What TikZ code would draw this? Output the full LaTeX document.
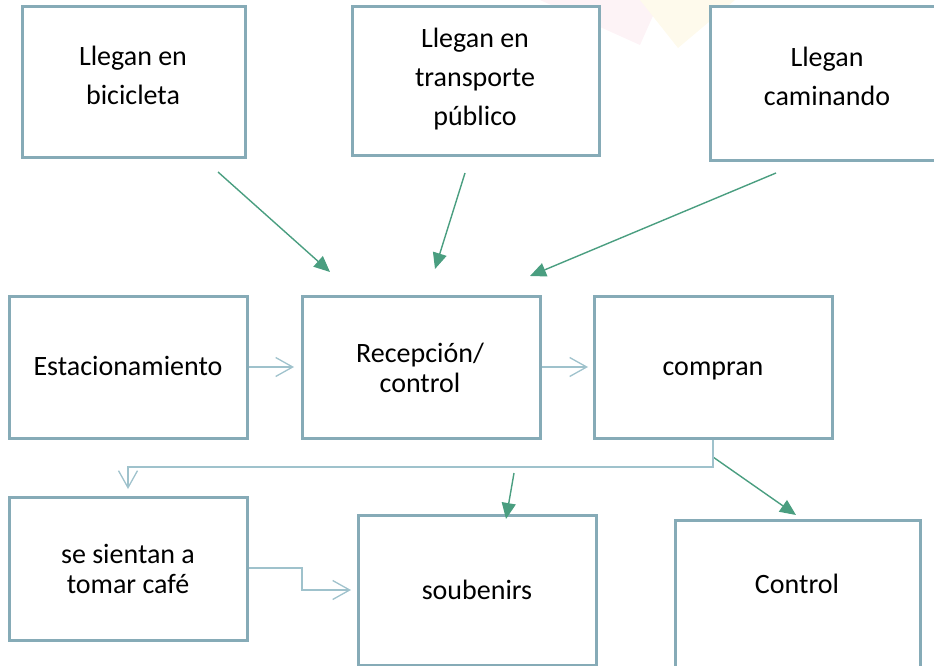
\documentclass[tikz,border=0pt]{standalone}
\usepackage{fontspec}
\setmainfont{Carlito}
\usetikzlibrary{arrows.meta}
\definecolor{boxc}{HTML}{86ABB7}
\definecolor{lightc}{HTML}{9FC2CC}
\definecolor{greenc}{HTML}{4A9E80}
\definecolor{wmyellow}{HTML}{FEFAEC}
\definecolor{wmpink}{HTML}{FDF3F6}
\tikzset{
  boxn/.style={draw=boxc, line width=3pt, fill=white, rectangle, inner sep=0pt},
  txt/.style={font=\fontsize{28}{39}\selectfont, align=center, inner sep=0pt},
  txtt/.style={font=\fontsize{28}{30}\selectfont, align=center, inner sep=0pt},
  garrow/.style={draw=greenc, line width=1.4pt, -{Triangle[length=16pt,width=14pt]}},
  larrow/.style={draw=lightc, line width=1.3pt, -{Straight Barb[length=17pt,width=19pt]}},
}
\begin{document}
\begin{tikzpicture}[x=1pt,y=-1pt]
\useasboundingbox (0,0) rectangle (934,666);
% faint background watermark
\fill[wmpink] (540,0) -- (660,0) -- (640,45) -- cycle;
\fill[wmyellow] (640,0) -- (735,0) -- (678,48) -- cycle;

% boxes
\node[boxn, minimum width=223pt, minimum height=150pt] (b1) at (133.5,82) {};
\node[boxn, minimum width=247pt, minimum height=148pt] (b2) at (475.5,81) {};
\node[boxn, minimum width=240pt, minimum height=153pt] (b3) at (830,83.5) {};
\node[boxn, minimum width=238pt, minimum height=142pt] (b4) at (128,367) {};
\node[boxn, minimum width=238pt, minimum height=142pt] (b5) at (421,367) {};
\node[boxn, minimum width=238pt, minimum height=142pt] (b6) at (713,367) {};
\node[boxn, minimum width=238pt, minimum height=143pt] (b7) at (128,568.5) {};
\node[boxn, minimum width=238pt, minimum height=150pt] (b8) at (477,590) {};
\node[boxn, minimum width=245pt, minimum height=180pt] (b9) at (797.5,610) {};

% texts
\node[txt] (t1) at (133,75) {Llegan en\\bicicleta};
\node[txt] (t2) at (475,79) {Llegan en\\transporte\\público};
\node[txt] (t3) at (827,76) {Llegan\\caminando};
\node[txt] (t4) at (128,366) {Estacionamiento};
\node[txtt] (t5) at (420,368) {Recepción/\\control};
\node[txt] (t6) at (713,371) {compran};
\node[txtt] (t7) at (128,569) {se sientan a\\tomar café};
\node[txt] (t8) at (477,590) {soubenirs};
\node[txt] (t9) at (797,584) {Control};

% free connector ends
\coordinate (g1s) at (218,172); \coordinate (g1e) at (330,272);
\coordinate (g2s) at (465,173); \coordinate (g2e) at (435,269);
\coordinate (g3s) at (776,173); \coordinate (g3e) at (530,276);
\coordinate (g4s) at (514,473); \coordinate (g4e) at (506,519);
\coordinate (g5s) at (713,457); \coordinate (g5e) at (796,515);
\coordinate (l1e) at (294,367);
\coordinate (l2e) at (588,367);
\coordinate (l3a) at (713,467); \coordinate (l3b) at (128,467); \coordinate (l3e) at (128,489);
\coordinate (l4a) at (302,568); \coordinate (l4b) at (302,590); \coordinate (l4e) at (351,590);

% green arrows
\draw[garrow] (g1s) -- (g1e);
\draw[garrow] (g2s) -- (g2e);
\draw[garrow] (g3s) -- (g3e);
\draw[garrow] (g4s) -- (g4e);
\draw[garrow] (g5s) -- (g5e);

% light connectors
\draw[larrow] (b4.east) -- (l1e);
\draw[larrow] (b5.east) -- (l2e);
\draw[larrow] (b6.south) -- (l3a) -- (l3b) -- (l3e);
\draw[larrow] (b7.east |- l4a) -- (l4a) -- (l4b) -- (l4e);
\end{tikzpicture}
\end{document}
